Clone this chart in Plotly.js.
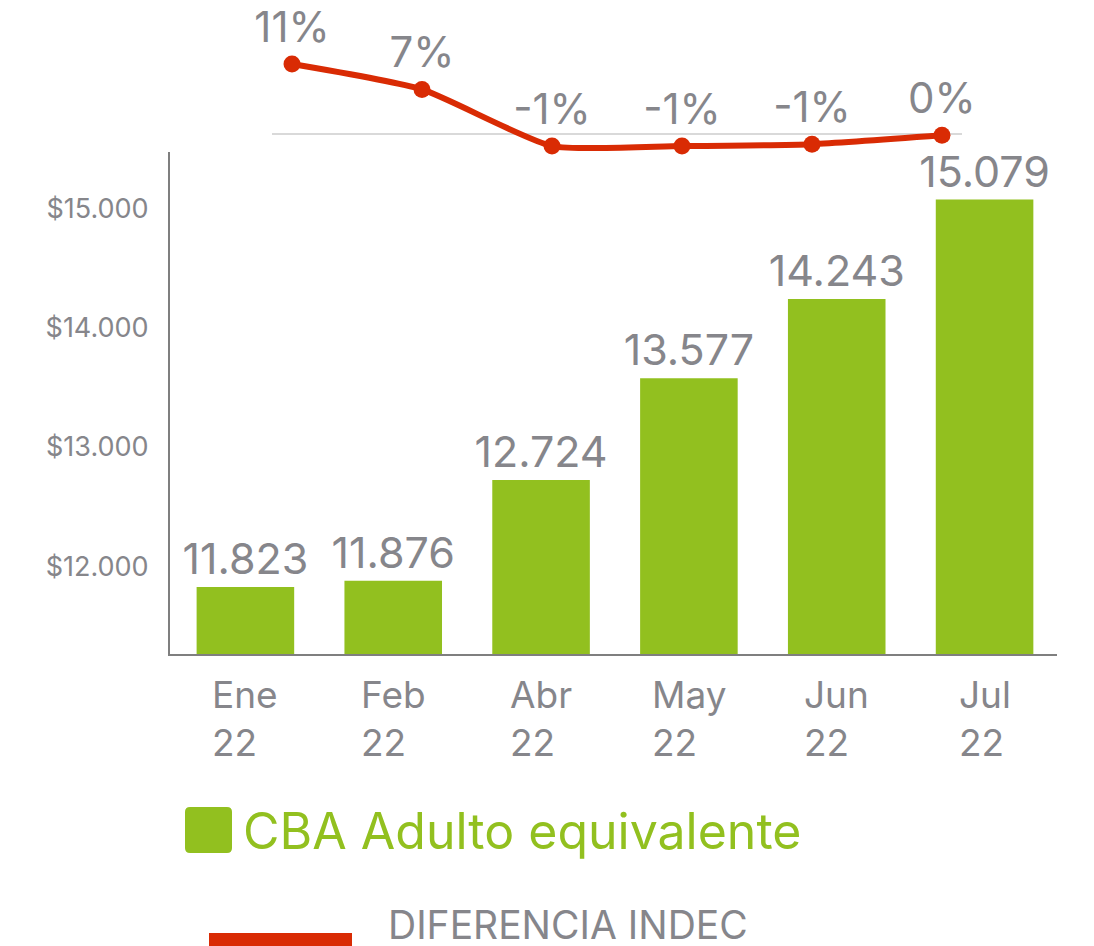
<!DOCTYPE html>
<html>
<head>
<meta charset="utf-8">
<script src="https://cdn.plot.ly/plotly-3.0.1.min.js"></script>
<style>html,body{margin:0;padding:0;background:#fff;}#chart{width:1094px;height:946px;}</style>
</head>
<body>
<div id="chart"></div>
<script>
// ---- data ----
const categories = ["Ene 22", "Feb 22", "Abr 22", "May 22", "Jun 22", "Jul 22"];
const tickLabels = ["Ene<br>22", "Feb<br>22", "Abr<br>22", "May<br>22", "Jun<br>22", "Jul<br>22"];
const cbaValues = [11823, 11876, 12724, 13577, 14243, 15079];
const cbaLabels = ["11.823", "11.876", "12.724", "13.577", "14.243", "15.079"];
const diffValues = [11, 7, -1.9, -1.9, -1.6, -0.2];
const diffLabels = ["11%", "7%", "-1%", "-1%", "-1%", "0%"];
const yTickVals = [12000, 13000, 14000, 15000];
const yTickText = ["$12.000", "$13.000", "$14.000", "$15.000"];
const seriesNames = ["CBA Adulto equivalente", "DIFERENCIA INDEC"];

const GREEN = "#92c01f";
const RED = "#d92b04";
const GRAY = "#86868b";
const FONT = "Inter, sans-serif";
const W = 1094, H = 946;
const px = x => x / W;
const py = y => 1 - y / H;

const bars = {
  type: "bar",
  x: categories,
  y: cbaValues,
  text: cbaLabels,
  textposition: "outside",
  constraintext: "none",
  textfont: {family: FONT, size: 43, color: GRAY},
  marker: {color: GREEN},
  width: 0.66,
  cliponaxis: false,
  xaxis: "x", yaxis: "y",
  hoverinfo: "x+y",
  name: seriesNames[0]
};

const line = {
  type: "scatter",
  mode: "lines+markers+text",
  x: categories,
  y: diffValues,
  text: diffLabels,
  textposition: "top center",
  textfont: {family: FONT, size: 42, color: GRAY},
  line: {color: RED, width: 6, shape: "spline", smoothing: 0.55},
  marker: {color: RED, size: 17},
  cliponaxis: false,
  xaxis: "x2", yaxis: "y2",
  name: seriesNames[1]
};

const annotations = categories.map((c, i) => ({
  x: c, xref: "x", y: py(670), yref: "paper",
  text: tickLabels[i], showarrow: false,
  xanchor: "center", yanchor: "top", align: "left",
  font: {family: FONT, size: 37, color: GRAY}
}));
annotations.push({
  x: px(241), xref: "paper", y: py(831), yref: "paper",
  text: seriesNames[0], showarrow: false, xanchor: "left", yanchor: "middle",
  font: {family: FONT, size: 50, color: GREEN}
});
annotations.push({
  x: px(386), xref: "paper", y: py(924), yref: "paper",
  text: seriesNames[1], showarrow: false, xanchor: "left", yanchor: "middle",
  font: {family: FONT, size: 39, color: GRAY}
});

// rounded legend swatch (paper coords)
function roundRect(x0, y0, x1, y1, r) {
  const X = v => px(v), Y = v => py(v);
  return `M ${X(x0 + r)} ${Y(y0)} L ${X(x1 - r)} ${Y(y0)} Q ${X(x1)} ${Y(y0)} ${X(x1)} ${Y(y0 + r)} ` +
         `L ${X(x1)} ${Y(y1 - r)} Q ${X(x1)} ${Y(y1)} ${X(x1 - r)} ${Y(y1)} ` +
         `L ${X(x0 + r)} ${Y(y1)} Q ${X(x0)} ${Y(y1)} ${X(x0)} ${Y(y1 - r)} ` +
         `L ${X(x0)} ${Y(y0 + r)} Q ${X(x0)} ${Y(y0)} ${X(x0 + r)} ${Y(y0)} Z`;
}

const layout = {
  width: W, height: H,
  margin: {l: 0, r: 0, t: 0, b: 0},
  paper_bgcolor: "#fff", plot_bgcolor: "rgba(0,0,0,0)",
  showlegend: false,
  font: {family: FONT, color: GRAY},
  xaxis: {
    domain: [px(170), px(1057)], anchor: "y",
    type: "category", range: [-0.51, 5.49],
    showticklabels: false, ticks: "",
    showline: true, linecolor: "#7f7f7f", linewidth: 2,
    showgrid: false, zeroline: false
  },
  yaxis: {
    domain: [py(654), py(152)], anchor: "x",
    range: [11261, 15479],
    tickvals: yTickVals, ticktext: yTickText,
    tickfont: {family: FONT, size: 27, color: GRAY},
    ticks: "", ticklabelstandoff: 14,
    showline: true, linecolor: "#7f7f7f", linewidth: 2,
    showgrid: false, zeroline: false
  },
  xaxis2: {
    domain: [px(272), px(962)], anchor: "y2",
    type: "category", range: [-0.154, 5.154],
    showticklabels: false, ticks: "", showline: false,
    showgrid: false, zeroline: false
  },
  yaxis2: {
    domain: [py(160), py(20)], anchor: "x2",
    range: [-4.09, 17.92],
    showticklabels: false, ticks: "", showline: false, showgrid: false,
    zeroline: true, zerolinecolor: "#d9d9d9", zerolinewidth: 2
  },
  shapes: [
    {type: "path", xref: "paper", yref: "paper",
     path: roundRect(185, 807, 232, 853, 5),
     fillcolor: GREEN, line: {width: 0}},
    {type: "rect", xref: "paper", yref: "paper",
     x0: px(209), x1: px(352), y0: py(946), y1: py(933),
     fillcolor: RED, line: {width: 0}}
  ],
  annotations: annotations
};

Plotly.newPlot("chart", [bars, line], layout, {displayModeBar: false, staticPlot: true});
</script>
</body>
</html>
